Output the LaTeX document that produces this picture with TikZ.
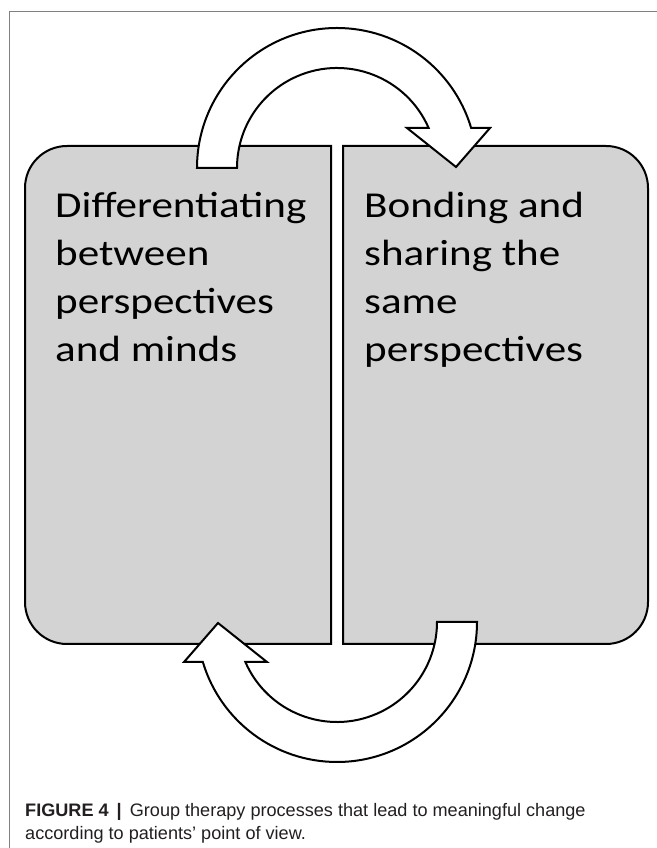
\documentclass[tikz,border=0pt]{standalone}
\usepackage{fontspec}
\setmainfont{Liberation Sans}
\newfontfamily\panelfont[FakeStretch=1.18]{Carlito}
\definecolor{panelgray}{HTML}{D3D3D3}
\definecolor{framegray}{HTML}{808080}
\definecolor{captext}{HTML}{231F20}

\begin{document}
\begin{tikzpicture}[x=1bp,y=1bp,
  panel/.style={draw=black, fill=panelgray, line width=2bp},
  turnarrow/.style={draw=black, fill=white, line width=2bp, line join=miter},
  paneltext/.style={inner sep=0pt, align=left, anchor=base west,
    font=\panelfont\fontsize{36.5bp}{48bp}\selectfont}]
\useasboundingbox (0,0) rectangle (657,848);

% frame
\draw[framegray, line width=1bp] (9,0) -- (9,836) -- (657,836);

% panels
\draw[panel] (331,702) -- (67,702) arc[start angle=90,end angle=180,radius=42]
  -- (25,246) arc[start angle=180,end angle=270,radius=42] -- (331,204) -- cycle;
\draw[panel] (343,702) -- (606,702) arc[start angle=90,end angle=0,radius=42]
  -- (648,246) arc[start angle=0,end angle=-90,radius=42] -- (343,204) -- cycle;

% turning arrows
\foreach \a in {0,180}
  \draw[turnarrow, rotate around={\a:(337,453)}]
    (197,680) arc[start angle=180,end angle=16.6,radius=140]
    -- (490,720) -- (456,681) -- (407,720) -- (428.65,720)
    arc[start angle=23.58,end angle=180,radius=100] -- cycle;

% texts (base = last line)
\node[paneltext] (diff) at (55,486) {Differentiating\\between\\perspectives\\and minds};
\node[paneltext] (bond) at (364,486) {Bonding and\\sharing the\\same\\perspectives};

% caption
\node[inner sep=0pt, anchor=base west, align=left, text=captext,
  font=\fontsize{18.1bp}{23bp}\selectfont] (cap) at (25,8)
  {\textbf{FIGURE 4} \,\textbf{|}\, Group therapy processes that lead to meaningful change\\according to patients’ point of view.};
\end{tikzpicture}
\end{document}
